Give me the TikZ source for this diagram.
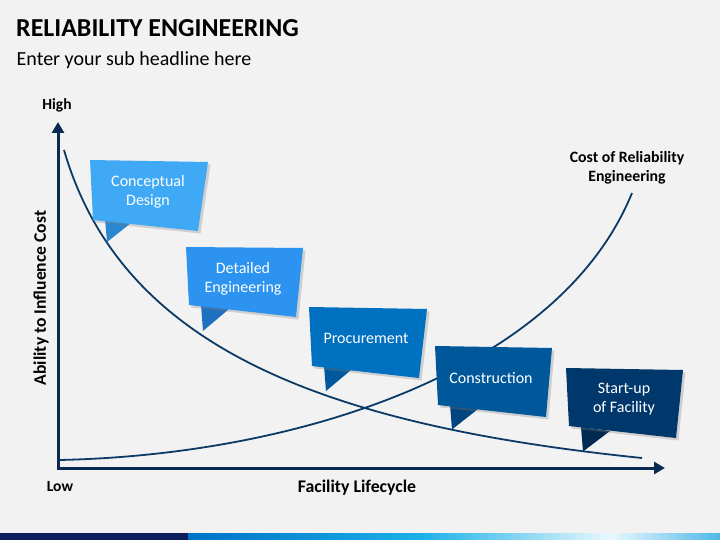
\documentclass[tikz,border=0pt]{standalone}
\usepackage{fontspec}
\setmainfont{Carlito}
\usetikzlibrary{arrows.meta,shadows}
\definecolor{bg}{HTML}{F2F2F2}
\definecolor{axisc}{HTML}{0B2A52}
\definecolor{curvec}{HTML}{0B3A66}
\definecolor{bA}{HTML}{3FA9F5}\definecolor{tA}{HTML}{2A86CF}
\definecolor{bB}{HTML}{2D93F0}\definecolor{tB}{HTML}{1F70C0}
\definecolor{bC}{HTML}{0070C0}\definecolor{tC}{HTML}{00599C}
\definecolor{bD}{HTML}{00579A}\definecolor{tD}{HTML}{00457E}
\definecolor{bE}{HTML}{00386B}\definecolor{tE}{HTML}{002A52}
\definecolor{barA}{HTML}{0A1F5C}
\definecolor{barB}{HTML}{0072C6}
\definecolor{barC}{HTML}{1AB0E8}
\definecolor{barD}{HTML}{EAF8FD}
\definecolor{barE}{HTML}{4FB8E8}
\tikzset{
  axisline/.style={draw=axisc,line width=3pt,-{Triangle[width=12pt,length=11pt]}},
  curveline/.style={draw=curvec,line width=1.8pt},
  boxshape/.style={drop shadow={opacity=0.3,shadow xshift=2.5pt,shadow yshift=-2.5pt}},
  boxtext/.style={text=white,font=\fontsize{16}{19}\selectfont,align=center},
  lbl/.style={font=\bfseries\fontsize{15.8}{19}\selectfont,align=center,text=black},
}
\begin{document}
\begin{tikzpicture}[x=1pt,y=-1pt]
\path[fill=bg] (0,0) rectangle (720,540);
\useasboundingbox (0,0) rectangle (720,540);
% bottom bar
\fill[barA] (0,533) rectangle (188,540);
\shade[left color=barB,right color=barC] (188,533) rectangle (420,540);
\shade[left color=barC,right color=barD] (420,533) rectangle (610,540);
\shade[left color=barD,right color=barE] (610,533) rectangle (720,540);
% titles
\node[anchor=base west,inner sep=0,font=\bfseries\fontsize{25.9}{30}\selectfont] (title) at (16,36.5) {RELIABILITY ENGINEERING};
\node[anchor=base west,inner sep=0,font=\fontsize{20}{24}\selectfont] (sub) at (16.5,66) {Enter your sub headline here};
% curves
\coordinate (d0) at (64,150);
\coordinate (d3) at (642,458);
\coordinate (u0) at (59,460);
\coordinate (u3) at (632,193);
\draw[curveline] (d0) .. controls (121,346) and (320,425) .. (d3);
\draw[curveline] (u0) .. controls (300,455) and (560,370) .. (u3);
% axes
\coordinate (O) at (58,468);
\coordinate (ytop) at (58,122);
\coordinate (xend) at (665,468);
\draw[axisline] (58,469.5) -- (ytop);
\draw[axisline] (56.5,468) -- (xend);
% axis labels
\node[lbl,font=\bfseries\fontsize{15.5}{18}\selectfont] (high) at (57,105) {High};
\node[lbl,font=\bfseries\fontsize{15.5}{18}\selectfont] (low) at (60,487) {Low};
\node[lbl,font=\bfseries\fontsize{17.8}{20}\selectfont] (xl) at (357,488) {Facility Lifecycle};
\node[lbl,font=\bfseries\fontsize{17.6}{20}\selectfont,rotate=90] (yl) at (41,298) {Ability to Influence Cost};
\node[lbl] (costl) at (627,167.5) {Cost of Reliability\\Engineering};
% box 1
\fill[tA] (105,219) -- (131,223) -- (107,242) -- cycle;
\path[fill=bA,boxshape] (90,160) -- (208,162) -- (198,231) -- (93,220) -- cycle;
\node[boxtext] (b1) at (148,191.5) {Conceptual\\Design};
% box 2
\fill[tB] (201,305) -- (229,309) -- (203,331) -- cycle;
\path[fill=bB,boxshape] (186,247) -- (303,248) -- (296,317) -- (189,305) -- cycle;
\node[boxtext] (b2) at (243,278.5) {Detailed\\Engineering};
% box 3
\fill[tC] (324,366) -- (351,370) -- (326,391) -- cycle;
\path[fill=bC,boxshape] (309,307) -- (427,309) -- (419,378) -- (312,366) -- cycle;
\node[boxtext] (b3) at (366,338) {Procurement};
% box 4
\fill[tD] (450,405) -- (478,409) -- (452,429.5) -- cycle;
\path[fill=bD,boxshape] (435,346) -- (552,348) -- (546,417) -- (438,405) -- cycle;
\node[boxtext] (b4) at (491,378) {Construction};
% box 5
\fill[tE] (581,427) -- (610,431) -- (583,451.5) -- cycle;
\path[fill=bE,boxshape] (566,368) -- (683,370) -- (676,438) -- (569,426) -- cycle;
\node[boxtext] (b5) at (624,399.5) {Start-up\\of Facility};
\end{tikzpicture}
\end{document}
